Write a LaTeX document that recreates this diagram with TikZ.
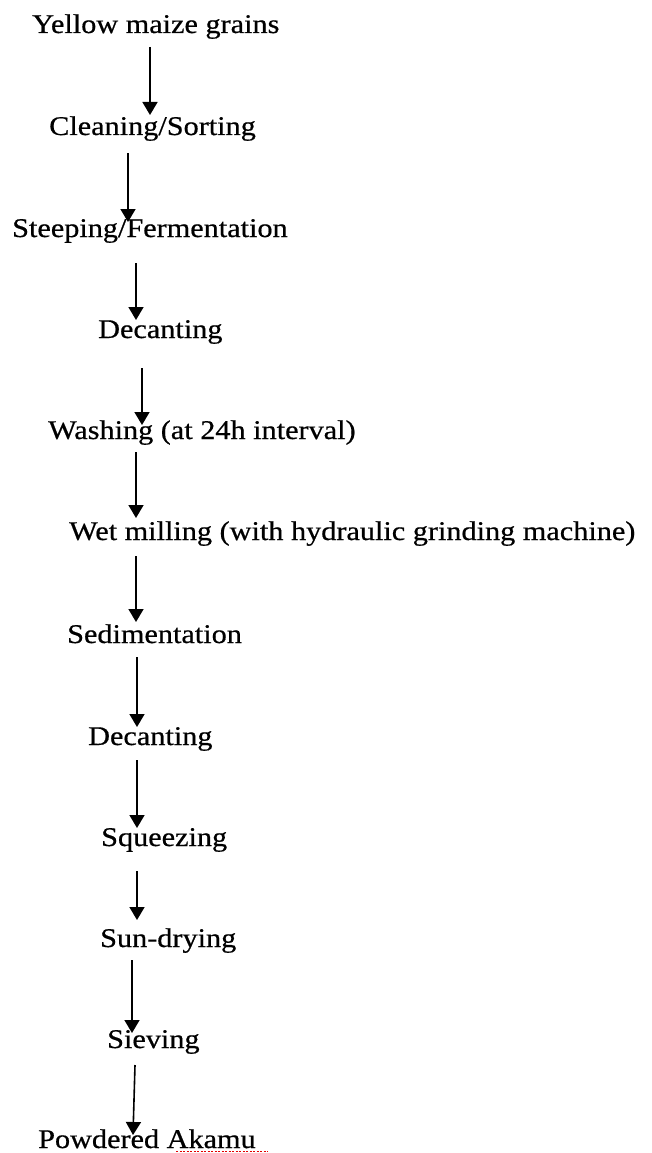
\documentclass[tikz,border=0pt]{standalone}
\usepackage{fontspec}
\setmainfont{Liberation Serif}[FakeStretch=1.12,FakeBold=0.6]
\usetikzlibrary{arrows.meta}
\begin{document}
\begin{tikzpicture}[x=1pt,y=-1pt,
  stage/.style={anchor=base west,inner sep=0pt,font=\fontsize{27}{30}\selectfont},
  flow/.style={line width=1.6pt,-{Triangle[width=15pt,length=13pt]}}]
\useasboundingbox (0,0) rectangle (652,1153);
% process stages
\node[stage] (s1)  at (32,33)   {Yellow maize grains};
\node[stage] (s2)  at (49,135)  {Cleaning/Sorting};
\node[stage] (s3)  at (12,237)  {Steeping/Fermentation};
\node[stage] (s4)  at (98,338)  {Decanting};
\node[stage] (s5)  at (48,439)  {Washing (at 24h interval)};
\node[stage] (s6)  at (69,540)  {Wet milling\ (with hydraulic grinding machine)};
\node[stage] (s7)  at (67,643)  {Sedimentation};
\node[stage] (s8)  at (88,745)  {Decanting};
\node[stage] (s9)  at (101,846) {Squeezing};
\node[stage] (s10) at (100,947) {Sun-drying};
\node[stage] (s11) at (107,1048){Sieving};
\node[stage] (s12) at (38,1148) {Powdered Akamu};
% arrow end points
\coordinate (a1t) at (150,47);   \coordinate (a1h) at (150,115);
\coordinate (a2t) at (128,153);  \coordinate (a2h) at (128,222);
\coordinate (a3t) at (136,263);  \coordinate (a3h) at (136,320);
\coordinate (a4t) at (142,368);  \coordinate (a4h) at (142,425);
\coordinate (a5t) at (136,452);  \coordinate (a5h) at (136,518);
\coordinate (a6t) at (136,556);  \coordinate (a6h) at (136,622);
\coordinate (a7t) at (137,657);  \coordinate (a7h) at (137,727);
\coordinate (a8t) at (137,760);  \coordinate (a8h) at (137,828);
\coordinate (a9t) at (137,871);  \coordinate (a9h) at (137,920);
\coordinate (a10t) at (132,960); \coordinate (a10h) at (132,1033);
\coordinate (a11t) at (135,1065);\coordinate (a11h) at (133,1135);
\foreach \i in {1,...,11} \draw[flow] (a\i t) -- (a\i h);
% spell-check underline beneath the last word
\draw[red!90!black,line width=1.4pt,dash pattern=on 2pt off 1.5pt] (176,1151.3) -- (268,1151.3);
\end{tikzpicture}
\end{document}
